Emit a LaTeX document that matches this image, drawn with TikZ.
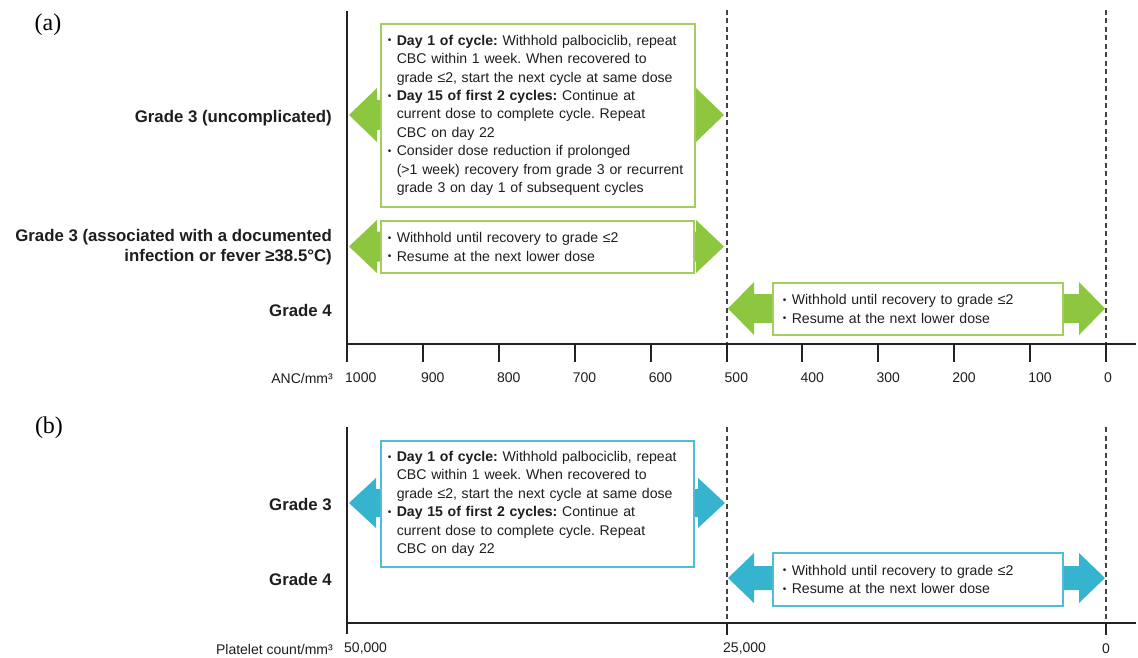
\documentclass[tikz,border=0pt]{standalone}
\usepackage{fontspec}
\setmainfont{Liberation Sans}
\newfontfamily\serifpanel{Liberation Serif}
\definecolor{grfill}{HTML}{8DC63F}
\definecolor{grline}{HTML}{A4CF60}
\definecolor{blfill}{HTML}{35B3CF}
\definecolor{blline}{HTML}{52BCD7}
\definecolor{ink}{HTML}{1E1E1E}
\definecolor{axcol}{HTML}{222222}
\newcommand\bul{\makebox[9pt][l]{\raisebox{0.1em}{\fontsize{10}{10}\selectfont •}}}
\newcommand\ind{\hspace*{9pt}}
\newcommand\boxfont{\fontsize{14.1}{18.4}\selectfont\frenchspacing\hyphenpenalty 10000\exhyphenpenalty 10000\relax}
% colour, left tip x, right tip x, centre y, head half-height, shaft half-height, head length
\newcommand\dblarr[7]{%
  \fill[#1] (#2,#4) -- ({#2+#7},{#4-#5}) -- ({#2+#7},{#4-#6}) -- ({#3-#7},{#4-#6})
   -- ({#3-#7},{#4-#5}) -- (#3,#4) -- ({#3-#7},{#4+#5}) -- ({#3-#7},{#4+#6})
   -- ({#2+#7},{#4+#6}) -- ({#2+#7},{#4+#5}) -- cycle;}
\tikzset{
  axis/.style={draw=axcol, line width=2pt},
  dashln/.style={draw=axcol!85, line width=1.3pt, dash pattern=on 5pt off 3.5pt},
  infobox/.style={rectangle, fill=white, line width=1.6pt, anchor=north west,
    inner ysep=0pt, inner xsep=7pt, align=left, text=ink, font=\boxfont},
  grbox/.style={infobox, draw=grline},
  blbox/.style={infobox, draw=blline},
  gradelab/.style={anchor=east, align=right, inner sep=0pt, text=ink,
    font=\bfseries\fontsize{16.8}{20}\selectfont},
  ticklab/.style={anchor=west, inner sep=0pt, text=ink,
    font=\fontsize{14}{16}\selectfont},
  axlab/.style={anchor=east, inner sep=0pt, text=ink,
    font=\fontsize{14}{16}\selectfont},
  panellab/.style={anchor=center, inner sep=0pt, text=black,
    font=\serifpanel\fontsize{24}{26}\selectfont}
}
\begin{document}
\begin{tikzpicture}[x=1pt,y=-1pt]
\useasboundingbox[fill=white] (0,0) rectangle (1138,658);

% ---------------- panel (a) ----------------
\node[panellab] (pa) at (48,25) {(a)};

\coordinate (aTop) at (347,11);
\coordinate (aBot) at (347,362);
\coordinate (aO) at (347,344);
\coordinate (aEnd) at (1136,344);
\coordinate (aD1t) at (727,10);
\coordinate (aD1b) at (727,344);
\coordinate (aD2t) at (1106,10);
\coordinate (aD2b) at (1106,344);
\draw[dashln] (aD1t) -- (aD1b);
\draw[dashln] (aD2t) -- (aD2b);

\dblarr{grfill}{349}{724}{115}{27}{15}{28}
\dblarr{grfill}{349}{724}{246.5}{26.5}{15}{28}
\dblarr{grfill}{728}{1105}{308.5}{26.5}{14.5}{26}

\node[grbox, minimum width=314pt, minimum height=183pt, text width=300pt] (a1) at (380,23) {%
\bul\textbf{Day 1 of cycle:} Withhold palbociclib, repeat\\
\ind CBC within 1 week. When recovered to\\
\ind grade ≤2, start the next cycle at same dose\\
\bul\textbf{Day 15 of first 2 cycles:} Continue at\\
\ind current dose to complete cycle. Repeat\\
\ind CBC on day 22\\
\bul Consider dose reduction if prolonged\\
\ind (>1 week) recovery from grade 3 or recurrent\\
\ind grade 3 on day 1 of subsequent cycles};

\node[grbox, minimum width=313pt, minimum height=52pt, text width=299pt] (a2) at (380,220) {%
\bul Withhold until recovery to grade ≤2\\
\bul Resume at the next lower dose};

\node[grbox, inner xsep=10pt, minimum width=290pt, minimum height=52pt, text width=270pt] (a3) at (772,282) {%
\bul Withhold until recovery to grade ≤2\\
\bul Resume at the next lower dose};

\node[gradelab] (ga1) at (332,118) {Grade 3 (uncomplicated)};
\node[gradelab] (ga2) at (332,247) {Grade 3 (associated with a documented\\infection or fever ≥38.5°C)};
\node[gradelab] (ga3) at (332,310) {Grade 4};

\draw[axis] (aTop) -- (aBot);
\draw[axis] (aO) -- (aEnd);
\foreach \i/\lab in {0/1000,1/900,2/800,3/700,4/600,5/500,6/400,7/300,8/200,9/100,10/0}{
  \draw[axis] ({347+75.9*\i},344) -- ({347+75.9*\i},362);
  \node[ticklab] (ta\i) at ({345+75.9*\i},378) {\lab};
}
\node[axlab] (anc) at (333,378) {ANC/mm³};

% ---------------- panel (b) ----------------
\node[panellab] (pb) at (49,428) {(b)};

\coordinate (bTop) at (347,427);
\coordinate (bBot) at (347,634);
\coordinate (bO) at (347,623);
\coordinate (bEnd) at (1136,623);
\coordinate (bD1t) at (727,427);
\coordinate (bD1b) at (727,623);
\coordinate (bD2t) at (1106,427);
\coordinate (bD2b) at (1106,623);
\draw[dashln] (bD1t) -- (bD1b);
\draw[dashln] (bD2t) -- (bD2b);

\dblarr{blfill}{349}{725}{503}{25}{14}{27}
\dblarr{blfill}{728}{1105}{578}{25}{12}{26}

\node[blbox, minimum width=313pt, minimum height=126pt, text width=299pt] (b1) at (380,440) {%
\bul\textbf{Day 1 of cycle:} Withhold palbociclib, repeat\\
\ind CBC within 1 week. When recovered to\\
\ind grade ≤2, start the next cycle at same dose\\
\bul\textbf{Day 15 of first 2 cycles:} Continue at\\
\ind current dose to complete cycle. Repeat\\
\ind CBC on day 22};

\node[blbox, inner xsep=10pt, minimum width=290pt, minimum height=53pt, text width=270pt] (b2) at (772,552) {%
\bul Withhold until recovery to grade ≤2\\
\bul Resume at the next lower dose};

\node[gradelab] (gb1) at (332,505) {Grade 3};
\node[gradelab] (gb2) at (332,579) {Grade 4};

\draw[axis] (bTop) -- (bBot);
\draw[axis] (bO) -- (bEnd);
\draw[axis] (bD1b) -- (727,635);
\draw[axis] (bD2b) -- (1106,635);
\node[ticklab] (tb0) at (344,649) {50,000};
\node[ticklab] (tb1) at (723,649) {25,000};
\node[ticklab] (tb2) at (1102,649) {0};
\node[axlab] (plt) at (333,649) {Platelet count/mm³};
\end{tikzpicture}
\end{document}
